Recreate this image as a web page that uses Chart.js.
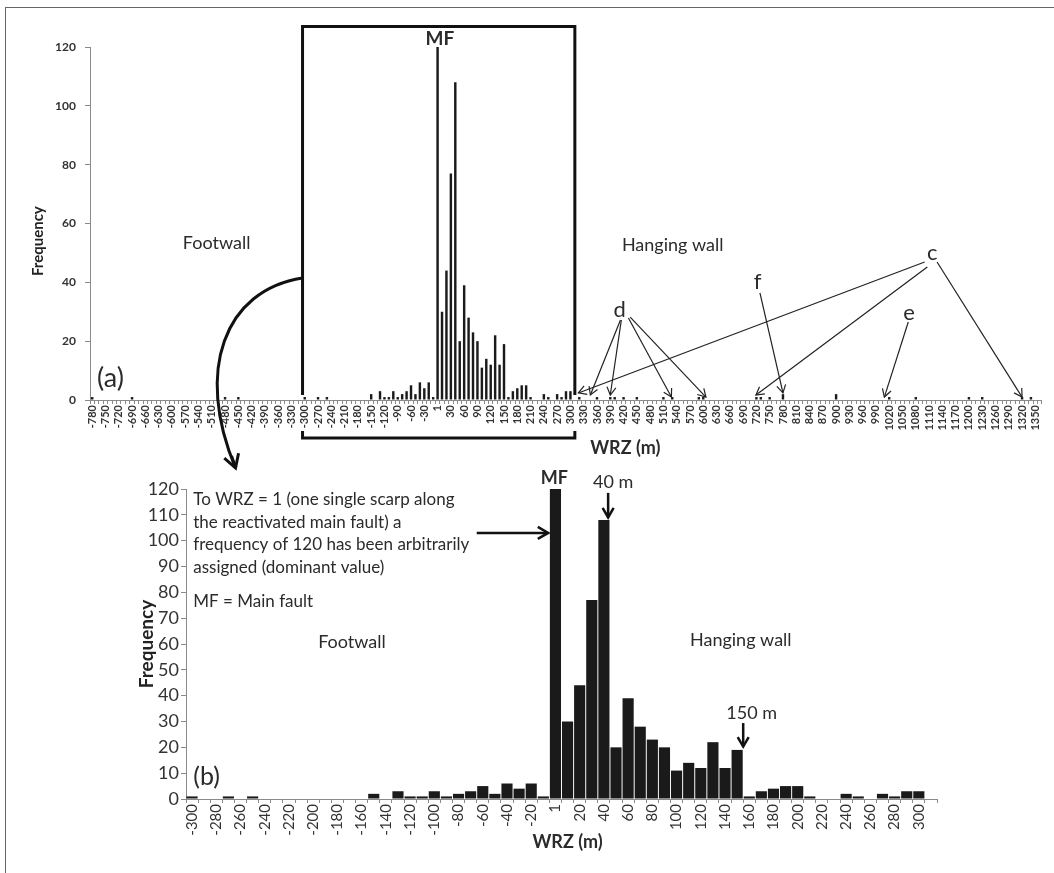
<!DOCTYPE html>
<html><head><meta charset="utf-8">
<script src="https://cdn.jsdelivr.net/npm/chart.js@4"></script>
<style>
html,body{margin:0;padding:0;background:#fff;}
#wrap{position:relative;width:1054px;height:873px;overflow:hidden;background:#fff;}
#frame{position:absolute;left:5px;top:7px;width:1100px;height:900px;border:1.5px solid #666;box-sizing:border-box;}
.cv{position:absolute;left:0;}
</style></head><body>
<div id="wrap">
<div id="frame"></div>
<canvas id="cB" class="cv" style="top:455px" width="1054" height="418"></canvas>
<canvas id="cA" class="cv" style="top:0px" width="1054" height="480"></canvas>
</div>
<script>
// ---- data (panel b, bins of 10 m; the 0 bin is labelled "1") ----
const wrzB = [-300,-290,-280,-270,-260,-250,-240,-230,-220,-210,-200,-190,-180,-170,-160,-150,-140,-130,-120,-110,-100,-90,-80,-70,-60,-50,-40,-30,-20,-10,0,10,20,30,40,50,60,70,80,90,100,110,120,130,140,150,160,170,180,190,200,210,220,230,240,250,260,270,280,290,300,310];
const freqB = [1,0,0,1,0,1,0,0,0,0,0,0,0,0,0,2,0,3,1,1,3,1,2,3,5,2,6,4,6,1,120,30,44,77,108,20,39,28,23,20,11,14,12,22,12,19,1,3,4,5,5,1,0,0,2,1,0,2,1,3,3,0];
// ---- scattered small bars outside -300..310 (panel a) ----
const wrzOuter  = [-780,-690,-480,-450,320,360,390,400,420,450,510,530,590,600,720,730,750,780,900,1020,1080,1200,1230,1320,1340];
const freqOuter = [1,1,1,1,1,1,1,1,1,1,1,1,1,1,1,1,1,2,2,1,1,1,1,1,1];
// ---- axis ranges ----
const wrzAStart = -780, wrzAEnd = 1360, binStep = 10;
const yTicksA = 20, yTicksB = 10, yMax = 120;

// build panel (a) table
const labelsA = [], freqA = [];
for (let v = wrzAStart; v <= wrzAEnd; v += binStep) {
  labelsA.push(v === 0 ? '1' : String(v));
  const ib = wrzB.indexOf(v);
  const io = wrzOuter.indexOf(v);
  freqA.push(ib >= 0 ? freqB[ib] : (io >= 0 ? freqOuter[io] : 0));
}
const labelsB = wrzB.map(v => v === 0 ? '1' : String(v));

Chart.defaults.font.family = 'Lato';
Chart.defaults.color = '#333';
const TXT = '#2b2b2b', BAR = '#1a1a1a', AX = '#8a8a8a';

function helpers(chart, start) {
  const xs = chart.scales.x, ys = chart.scales.y;
  const p0 = xs.getPixelForValue(0), w = xs.getPixelForValue(1) - p0;
  return { X: v => p0 + (v - start) / binStep * w, Y: f => ys.getPixelForValue(f), w, ca: chart.chartArea };
}
function arrow(ctx, x1, y1, x2, y2, head, lw) {
  ctx.lineWidth = lw;
  ctx.beginPath(); ctx.moveTo(x1, y1); ctx.lineTo(x2, y2); ctx.stroke();
  const a = Math.atan2(y2 - y1, x2 - x1), s = Math.PI / 6;
  ctx.beginPath();
  ctx.moveTo(x2 - head * Math.cos(a - s), y2 - head * Math.sin(a - s));
  ctx.lineTo(x2, y2);
  ctx.lineTo(x2 - head * Math.cos(a + s), y2 - head * Math.sin(a + s));
  ctx.stroke();
}
function text(ctx, s, x, y, font, align) {
  ctx.font = font; ctx.fillStyle = TXT; ctx.textAlign = align || 'center'; ctx.textBaseline = 'middle';
  ctx.fillText(s, x, y);
}
function vtext(ctx, s, x, y, font) {
  ctx.save(); ctx.translate(x, y); ctx.rotate(-Math.PI / 2);
  ctx.font = font; ctx.fillStyle = '#222'; ctx.textAlign = 'center'; ctx.textBaseline = 'middle';
  ctx.fillText(s, 0, 0); ctx.restore();
}

const annA = {
  id: 'annA',
  afterDraw(chart) {
    const ctx = chart.ctx, { X, Y, ca } = helpers(chart, wrzAStart);
    ctx.save();
    vtext(ctx, 'Frequency', 38, Y(54), 'bold 15px Lato');
    ctx.strokeStyle = '#111'; ctx.lineCap = 'butt'; ctx.lineJoin = 'miter';
    // box around -300..300
    const L = X(-305), R = X(310), T = Y(127);
    ctx.lineWidth = 3;
    ctx.beginPath();
    ctx.moveTo(L, Y(0) - 5); ctx.lineTo(L, T); ctx.lineTo(R, T); ctx.lineTo(R, Y(0) - 5);
    ctx.moveTo(L, ca.bottom + 31); ctx.lineTo(L, ca.bottom + 38); ctx.lineTo(R, ca.bottom + 38); ctx.lineTo(R, ca.bottom + 31);
    ctx.stroke();
    // curved arrow to panel b
    const sx = L, sy = Y(41.5), ex = L - 67, ey = ca.bottom + 68;
    const c1x = L - 78, c1y = sy + 12, c2x = L - 108, c2y = Y(10);
    ctx.lineWidth = 3;
    ctx.beginPath(); ctx.moveTo(sx, sy); ctx.bezierCurveTo(c1x, c1y, c2x, c2y, ex, ey); ctx.stroke();
    arrow(ctx, ex - 4, ey - 12, ex, ey, 15, 3);
    // texts
    text(ctx, 'MF', X(5), Y(122.7), 'bold 19px Lato');
    text(ctx, 'Footwall', X(-499), Y(53.4), '18px Lato');
    text(ctx, 'Hanging wall', X(531), Y(52.7), '18px Lato');
    text(ctx, '(a)', X(-769), Y(7.5), '27px Lato', 'left');
    text(ctx, 'c', X(1117), Y(50), '22px Lato');
    text(ctx, 'd', X(411), Y(30.6), '22px Lato');
    text(ctx, 'f', X(723), Y(40), '22px Lato');
    text(ctx, 'e', X(1065), Y(29.6), '22px Lato');
    text(ctx, 'WRZ (m)', X(424), ca.bottom + 48, 'bold 18px Lato');
    // thin arrows
    ctx.strokeStyle = '#222';
    const th = 1.2, hd = 9;
    arrow(ctx, X(1100), Y(46.9), X(318), Y(2.4), hd, th);
    arrow(ctx, X(1106), Y(45.2), X(719), Y(1.7), hd, th);
    arrow(ctx, X(1128), Y(46.9), X(1320), Y(1.0), hd, th);
    arrow(ctx, X(413), Y(27.2), X(345), Y(1.7), hd, th);
    arrow(ctx, X(415), Y(27.2), X(390), Y(1.7), hd, th);
    arrow(ctx, X(431), Y(27.9), X(528), Y(1.0), hd, th);
    arrow(ctx, X(435), Y(28.2), X(606), Y(1.0), hd, th);
    arrow(ctx, X(728), Y(36.4), X(780), Y(2.4), hd, th);
    arrow(ctx, X(1063), Y(26.5), X(1009), Y(1.0), hd, th);
    ctx.restore();
  }
};

const annB = {
  id: 'annB',
  afterDraw(chart) {
    const ctx = chart.ctx, { X, Y, ca } = helpers(chart, wrzB[0]);
    ctx.save();
    const lines = ['To WRZ = 1 (one single scarp along', 'the reactivated main fault) a', 'frequency of 120 has been arbitrarily', 'assigned (dominant value)'];
    lines.forEach((s, k) => text(ctx, s, X(-299), Y(115.8) + k * 22.5, '17px Lato', 'left'));
    text(ctx, 'MF = Main fault', X(-299), Y(76.3), '17px Lato', 'left');
    text(ctx, 'Footwall', X(-168), Y(60.8), '18px Lato');
    text(ctx, 'Hanging wall', X(153), Y(61.6), '18px Lato');
    text(ctx, '(b)', X(-299), Y(8.5), '25px Lato', 'left');
    text(ctx, 'MF', X(-1), Y(124.3), 'bold 18px Lato');
    text(ctx, '40 m', X(47.6), Y(122.7), '18px Lato');
    text(ctx, '150 m', X(162), Y(33.3), '18px Lato');
    text(ctx, 'WRZ (m)', X(10), ca.bottom + 43, 'bold 18px Lato');
    ctx.strokeStyle = '#111';
    arrow(ctx, X(43.5), Y(118.5), X(43.5), Y(109), 11, 2.5);
    arrow(ctx, X(-65), Y(103), X(-6), Y(103), 12, 2.5);
    arrow(ctx, X(155), Y(29.4), X(155), Y(20.3), 11, 2.5);
    ctx.restore();
  }
};

new Chart(document.getElementById('cA'), {
  type: 'bar',
  data: { labels: labelsA, datasets: [{ data: freqA, backgroundColor: BAR, barPercentage: 0.55, categoryPercentage: 1 }] },
  options: {
    responsive: false, animation: false,
    layout: { padding: { top: 47, right: 9, left: 0, bottom: 0 } },
    plugins: { legend: { display: false }, tooltip: { enabled: false } },
    scales: {
      x: {
        afterFit: s => { s.height = 80; },
        border: { display: true, color: AX, width: 1 },
        grid: { drawOnChartArea: false, drawTicks: true, tickLength: 4, color: AX },
        ticks: { autoSkip: false, minRotation: 90, maxRotation: 90, padding: 1, color: '#333',
          font: { size: 11, weight: 'bold' },
          callback: (v, i) => i % 3 === 0 ? labelsA[i] : '' }
      },
      y: {
        min: 0, max: yMax,
        afterFit: s => { s.width = 90; },
        border: { display: true, color: AX, width: 1 },
        grid: { drawOnChartArea: false, tickLength: 5, color: AX },
        ticks: { stepSize: yTicksA, padding: 9, color: '#333', font: { size: 12, weight: 'bold' } }
      }
    }
  },
  plugins: [annA]
});

new Chart(document.getElementById('cB'), {
  type: 'bar',
  data: { labels: labelsB, datasets: [{ data: freqB, backgroundColor: BAR, barPercentage: 1, categoryPercentage: 0.92 }] },
  options: {
    responsive: false, animation: false,
    layout: { padding: { top: 34, right: 117, left: 0, bottom: 0 } },
    plugins: { legend: { display: false }, tooltip: { enabled: false } },
    scales: {
      x: {
        afterFit: s => { s.height = 74; },
        border: { display: true, color: AX, width: 1 },
        grid: { drawOnChartArea: false, drawTicks: true, tickLength: 4, color: AX },
        ticks: { autoSkip: false, minRotation: 90, maxRotation: 90, padding: 1, color: '#333',
          font: { size: 15 },
          callback: (v, i) => i % 2 === 0 ? labelsB[i] : '' }
      },
      y: {
        min: 0, max: yMax,
        afterFit: s => { s.width = 186; },
        border: { display: true, color: AX, width: 1 },
        grid: { drawOnChartArea: false, tickLength: 5, color: AX },
        ticks: { stepSize: yTicksB, padding: 2, color: '#333', font: { size: 18 } },
        title: { display: true, text: 'Frequency', color: '#222', font: { size: 19, weight: 'bold' }, padding: { top: 135, bottom: 0 } }
      }
    }
  },
  plugins: [annB]
});
</script>
</body></html>
